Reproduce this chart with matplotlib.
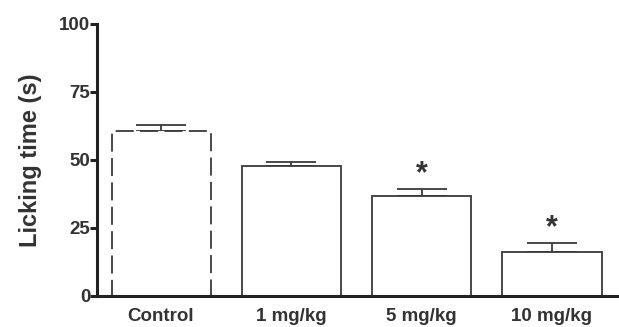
import matplotlib.pyplot as plt

groups = ['Control', '1 mg/kg', '5 mg/kg', '10 mg/kg']
means = [60.7, 47.8, 36.8, 16.2]
sems = [2.2, 1.5, 2.5, 3.2]
stars = ['', '', '*', '*']
y_ticks = [0, 25, 50, 75, 100]

plt.rcParams['font.family'] = ['Liberation Sans', 'DejaVu Sans']
plt.rcParams['font.weight'] = 'bold'

fig = plt.figure(figsize=(6.19, 3.27), dpi=100)
ax = fig.add_axes([0.157, 0.095, 0.84, 0.832])

dark = '#333333'
x = list(range(len(groups)))
bars = ax.bar(x, means, width=0.76, color='white', edgecolor='#3a3a3a',
              linewidth=1.3, zorder=2)
bars[0].set_linestyle((0, (10, 3.5)))

ax.errorbar(x, means, yerr=[[0] * len(sems), sems], fmt='none',
            ecolor='#3a3a3a', elinewidth=1.3, capsize=18, capthick=1.3, zorder=1)

for xi, m, s, st in zip(x, means, sems, stars):
    if st:
        ax.text(xi, m + s + 5.5, st, ha='center', va='center', fontsize=22,
                color=dark)

ax.set_xlim(-0.49, 3.5)
ax.set_ylim(0, 100)
ax.set_yticks(y_ticks)
ax.set_xticks(x)
ax.set_xticklabels(groups)
ax.set_ylabel('Licking time (s)', fontsize=17, fontweight='bold', color=dark,
              labelpad=12)

for side in ['top', 'right']:
    ax.spines[side].set_visible(False)
for side in ['left', 'bottom']:
    ax.spines[side].set_linewidth(2.2)
    ax.spines[side].set_color('#222222')
ax.tick_params(axis='y', length=5, width=2.2, color='#222222',
               labelsize=13.5, labelcolor=dark, pad=0)
ax.tick_params(axis='x', length=0, labelsize=13.5, labelcolor=dark, pad=9)

fig.savefig('out.png', dpi=100)
